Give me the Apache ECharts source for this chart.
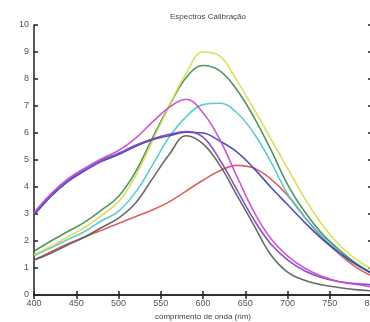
<!DOCTYPE html>
<html>
<head>
<meta charset="utf-8">
<script src="https://cdn.jsdelivr.net/npm/echarts@6/dist/echarts.min.js"></script>
<style>
  html, body { margin: 0; padding: 0; background: #fff; }
  #chart { width: 370px; height: 322px; }
</style>
</head>
<body>
<div id="chart"></div>
<script>
// comprimento de onda (nm)
const wavelengths = [400, 420, 440, 460, 480, 500, 520, 540, 560, 580, 600, 620, 640, 660, 680, 700, 720, 740, 760, 780, 800];

const yellow = [1.5, 1.8, 2.15, 2.5, 2.95, 3.45, 4.4, 5.7, 7.0, 8.2, 9.0, 8.85, 7.95, 6.9, 5.8, 4.7, 3.6, 2.65, 1.9, 1.35, 0.95];
const green = [1.62, 2.0, 2.35, 2.7, 3.15, 3.65, 4.55, 5.8, 7.0, 8.05, 8.5, 8.3, 7.6, 6.6, 5.4, 4.1, 3.1, 2.3, 1.7, 1.2, 0.8];
const cyan = [1.45, 1.75, 2.05, 2.35, 2.75, 3.1, 3.8, 4.8, 5.85, 6.6, 7.05, 7.1, 6.75, 6.0, 4.95, 3.75, 2.9, 2.2, 1.6, 1.15, 0.8];
const gray = [1.3, 1.55, 1.85, 2.15, 2.5, 2.85, 3.4, 4.3, 5.2, 5.9, 5.6, 4.8, 3.7, 2.6, 1.5, 0.85, 0.55, 0.38, 0.28, 0.2, 0.15];
const red = [1.3, 1.6, 1.9, 2.15, 2.4, 2.65, 2.9, 3.15, 3.45, 3.85, 4.25, 4.6, 4.8, 4.7, 4.3, 3.7, 2.9, 2.15, 1.55, 1.05, 0.7];
const blue = [2.95, 3.65, 4.2, 4.6, 4.95, 5.2, 5.5, 5.75, 5.9, 6.03, 6.0, 5.7, 5.3, 4.7, 4.0, 3.35, 2.7, 2.1, 1.6, 1.15, 0.8];
const violet = [3.0, 3.7, 4.25, 4.65, 5.0, 5.25, 5.55, 5.78, 5.95, 6.05, 5.85, 5.0, 3.9, 2.8, 1.9, 1.3, 0.9, 0.65, 0.5, 0.42, 0.38];
const magenta = [3.05, 3.75, 4.3, 4.7, 5.05, 5.35, 5.8, 6.4, 6.95, 7.25, 6.75, 5.75, 4.4, 3.1, 2.1, 1.45, 1.0, 0.7, 0.5, 0.4, 0.3];

const seriesList = [
  { values: red, color: '#d9514e' },
  { values: gray, color: '#565c56' },
  { values: cyan, color: '#4cc6c6' },
  { values: green, color: '#3e8a4c' },
  { values: yellow, color: '#d6db4c' },
  { values: blue, color: '#3b40b2' },
  { values: violet, color: '#7d40bc' },
  { values: magenta, color: '#cc46cc' },
];

const chart = echarts.init(document.getElementById('chart'));

const axisColor = '#222';
const labelStyle = { color: '#555', fontSize: 9, fontFamily: 'Liberation Sans, Arial, sans-serif' };

const option = {
  backgroundColor: '#fff',
  animation: false,
  title: {
    text: 'Espectros Calibração',
    left: 203,
    textAlign: 'center',
    top: 8,
    textStyle: { fontSize: 8, fontWeight: 'normal', color: '#444', fontFamily: 'Liberation Sans, Arial, sans-serif' },
  },
  // a caixa passa da borda direita, como na figura original
  grid: { left: 34, top: 25, width: 338, height: 270, containLabel: false, outerBoundsMode: 'none' },
  xAxis: [
    {
      type: 'value',
      min: 400,
      max: 800,
      interval: 50,
      name: 'comprimento de onda (nm)',
      nameLocation: 'middle',
      nameGap: 18,
      nameTextStyle: { ...labelStyle, fontSize: 8, color: '#444' },
      axisLine: { lineStyle: { color: axisColor, width: 1.5 } },
      axisTick: { inside: true, length: 4, lineStyle: { color: axisColor, width: 1.5 } },
      axisLabel: { ...labelStyle, margin: 4 },
      splitLine: { show: false },
    },
    {
      type: 'value',
      position: 'top',
      min: 400,
      max: 800,
      interval: 50,
      axisLine: { lineStyle: { color: axisColor, width: 1.5 } },
      axisTick: { inside: true, length: 4, lineStyle: { color: axisColor, width: 1.5 } },
      axisLabel: { show: false },
      splitLine: { show: false },
    },
  ],
  yAxis: [
    {
      type: 'value',
      min: 0,
      max: 10,
      interval: 1,
      axisLine: { show: true, lineStyle: { color: axisColor, width: 1.5 } },
      axisTick: { show: true, inside: true, length: 4, lineStyle: { color: axisColor, width: 1.5 } },
      axisLabel: { ...labelStyle, margin: 5 },
      splitLine: { show: false },
    },
    {
      type: 'value',
      position: 'right',
      min: 0,
      max: 10,
      interval: 1,
      axisLine: { show: true, lineStyle: { color: axisColor, width: 1.5 } },
      axisTick: { show: true, inside: true, length: 4, lineStyle: { color: axisColor, width: 1.5 } },
      axisLabel: { show: false },
      splitLine: { show: false },
    },
  ],
  series: seriesList.map(({ values, color }) => ({
    type: 'line',
    xAxisIndex: 0,
    yAxisIndex: 0,
    smooth: 0.4,
    showSymbol: false,
    lineStyle: { color, width: 1.6, opacity: 0.9 },
    data: wavelengths.map((w, i) => [w, values[i]]),
  })),
};

chart.setOption(option);
</script>
</body>
</html>
